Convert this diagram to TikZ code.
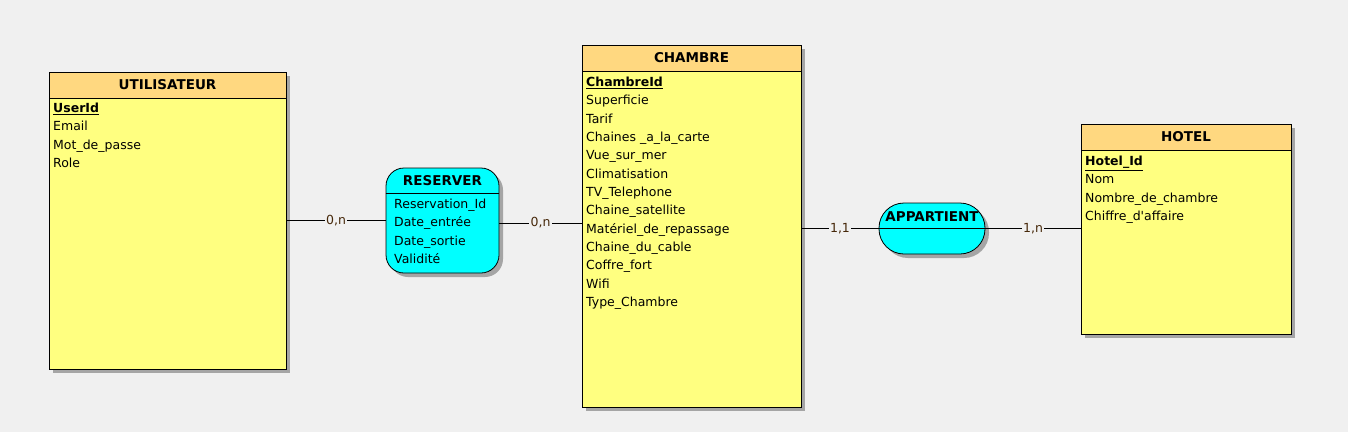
\documentclass[tikz,border=0pt]{standalone}
\usepackage{fontspec}
\setmainfont{DejaVu Sans}
\usetikzlibrary{shadows,calc}
\definecolor{bgcol}{RGB}{240,240,240}
\definecolor{headcol}{RGB}{255,216,128}
\definecolor{bodycol}{RGB}{255,255,128}
\definecolor{assoccol}{RGB}{0,255,255}
\definecolor{cardcol}{RGB}{70,40,10}
\definecolor{shadowcol}{RGB}{165,165,165}
\begin{document}
\begin{tikzpicture}[x=1pt,y=-1pt,
  every node/.style={font=\fontsize{12.5}{15}\selectfont},
  boxshadow/.style={drop shadow={shadow xshift=4pt,shadow yshift=-4pt,fill=shadowcol,opacity=1}},
  entity/.style={draw,line width=0.8pt,fill=bodycol,inner sep=0pt,boxshadow},
  entityhead/.style={draw,line width=0.8pt,fill=headcol,inner sep=0pt,anchor=north west,
    minimum height=26pt,font=\bfseries\fontsize{13.5}{15}\selectfont},
  assoc/.style={draw,line width=0.8pt,fill=assoccol,inner sep=0pt,boxshadow},
  title/.style={inner sep=0pt,font=\bfseries\fontsize{13.5}{15}\selectfont},
  attr/.style={anchor=base west,inner sep=0pt},
  keyattr/.style={attr,font=\bfseries\fontsize{12.5}{15}\selectfont},
  card/.style={fill=bgcol,inner sep=1.5pt,text=cardcol},
  link/.style={line width=0.8pt}]
\fill[bgcol] (0,0) rectangle (1348,432);
\useasboundingbox (0,0) rectangle (1348,432);

% entities
\node[entity,minimum width=237pt,minimum height=297pt] (util) at (167.5,220.5) {};
\node[entityhead,minimum width=237pt] (utilh) at (util.north west) {UTILISATEUR};
\node[entity,minimum width=219pt,minimum height=362pt] (cham) at (691.5,226) {};
\node[entityhead,minimum width=219pt] (chamh) at (cham.north west) {CHAMBRE};
\node[entity,minimum width=210pt,minimum height=210pt] (hotel) at (1186,229) {};
\node[entityhead,minimum width=210pt] (hotelh) at (hotel.north west) {HOTEL};

% associations
\node[assoc,rounded corners=18pt,minimum width=113pt,minimum height=105pt] (res) at (442.5,220.5) {};
\draw[line width=0.8pt] ($(res.north west)+(0,26)$) -- ($(res.north east)+(0,26)$);
\node[title] (resh) at ($(res.north)+(0,13)$) {RESERVER};
\node[assoc,rounded corners=25pt,minimum width=106pt,minimum height=51pt] (app) at (932,228.5) {};
\draw[line width=0.8pt] (app.west) -- (app.east);
\node[title] (apph) at (932,216.5) {APPARTIENT};

% attributes
\node[keyattr] (ua0) at (53,112.5) {\underline{UserId}};
\foreach \t [count=\i] in {Email,Mot\_de\_passe,Role}
  \node[attr] (ua\i) at (53,112.5+18.33*\i) {\t};

\node[attr] (ra0) at (394,208.5) {Reservation\_Id};
\foreach \t [count=\i] in {Date\_entrée,Date\_sortie,Validité}
  \node[attr] (ra\i) at (394,208.5+18.33*\i) {\t};

\node[keyattr] (ca0) at (586,86.5) {\underline{ChambreId}};
\foreach \t [count=\i] in {Superficie,Tarif,Chaines \_a\_la\_carte,Vue\_sur\_mer,Climatisation,
    TV\_Telephone,Chaine\_satellite,Matériel\_de\_repassage,Chaine\_du\_cable,Coffre\_fort,Wifi,Type\_Chambre}
  \node[attr] (ca\i) at (586,86.5+18.33*\i) {\t};

\node[keyattr] (ha0) at (1085,165.5) {\underline{Hotel\_Id}};
\foreach \t [count=\i] in {Nom,Nombre\_de\_chambre,Chiffre\_d\textquotesingle affaire}
  \node[attr] (ha\i) at (1085,165.5+18.33*\i) {\t};

% links
\draw[link] (util.east |- res.west) -- node[card] (c1) {0,n} (res.west);
\draw[link] (res.east) ++(0,2.5) coordinate (rese) -- node[card] (c2) {0,n} (rese -| cham.west);
\draw[link] (cham.east |- app.west) -- node[card] (c3) {1,1} (app.west);
\draw[link] (app.east) -- node[card] (c4) {1,n} (app.east -| hotel.west);
\end{tikzpicture}
\end{document}
